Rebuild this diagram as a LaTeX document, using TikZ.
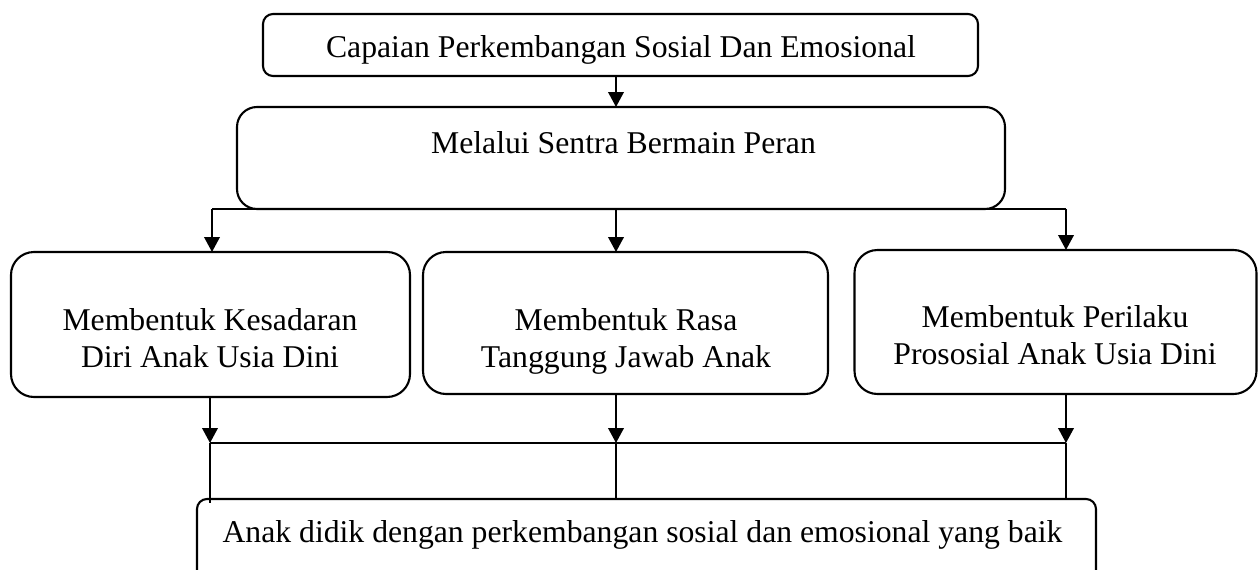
\documentclass[tikz,border=0pt]{standalone}
\usepackage{fontspec}
\setmainfont{Liberation Serif}
\usetikzlibrary{arrows.meta,calc}
\begin{document}
\begin{tikzpicture}[x=1pt,y=-1pt,
  box/.style={draw=black,line width=2.1pt,inner sep=0pt,outer sep=0pt,fill=none},
  lbl/.style={inner sep=0pt,outer sep=0pt,anchor=base,font=\fontsize{31.7}{37}\selectfont,align=center},
  arr/.style={line width=2.2pt,-{Triangle[length=15pt,width=15.5pt]}},
  bar/.style={line width=2.2pt},
  thinline/.style={line width=1.5pt}]
\useasboundingbox (0,0) rectangle (1258,570);
\clip (0,0) rectangle (1258,570);
% boxes
\node[box,rounded corners=10pt,minimum width=715pt,minimum height=62pt] (top) at (620.5,45) {};
\node[box,rounded corners=20pt,minimum width=768pt,minimum height=102pt] (mid) at (621,158) {};
\node[box,rounded corners=23pt,minimum width=399pt,minimum height=145pt] (A) at (210.5,324.5) {};
\node[box,rounded corners=23pt,minimum width=405pt,minimum height=142pt] (B) at (625.5,323) {};
\node[box,rounded corners=23pt,minimum width=402pt,minimum height=144pt] (C) at (1055.5,322) {};
\node[box,rounded corners=10pt,minimum width=899pt,minimum height=90pt] (bot) at (646.5,544) {};
% texts
\node[lbl] (ttop) at (621,57) {Capaian Perkembangan Sosial Dan Emosional};
\node[lbl] (tmid) at (623.5,153) {Melalui Sentra Bermain Peran};
\node[lbl] (tA1) at (210,330) {Membentuk Kesadaran};
\node[lbl] (tA2) at (210,367) {Diri Anak Usia Dini};
\node[lbl] (tB1) at (626,330) {Membentuk Rasa};
\node[lbl] (tB2) at (626,367) {Tanggung Jawab Anak};
\node[lbl] (tC1) at (1055,327) {Membentuk Perilaku};
\node[lbl] (tC2) at (1055,364) {Prososial Anak Usia Dini};
\node[lbl] (tbot) at (642.5,542) {Anak didik dengan perkembangan sosial dan emosional yang baik};
% branch coordinates
\coordinate (xl) at (212,0);
\coordinate (xm) at (616,0);
\coordinate (xr) at (1066,0);
\coordinate (jl) at (210,443);
\coordinate (jm) at (616,443);
\coordinate (jr) at (1066,443);
% connectors
\draw[arr] (top.south -| xm) -- (mid.north -| xm);
\draw[bar] (mid.south -| xl) -- (mid.south -| xr);
\draw[arr] (mid.south -| xl) -- (A.north -| xl);
\draw[arr] (mid.south -| xm) -- (B.north -| xm);
\draw[arr] (mid.south -| xr) -- (C.north -| xr);
\draw[arr] (A.south -| jl) -- (jl);
\draw[arr] (B.south -| jm) -- (jm);
\draw[arr] (C.south -| jr) -- (jr);
\draw[bar] (jl) -- (jr);
\draw[thinline] (jl) -- ($(bot.north -| jl)+(0,4)$);
\draw[thinline] (jm) -- (bot.north -| jm);
\draw[thinline] (jr) -- (bot.north -| jr);
\end{tikzpicture}
\end{document}
